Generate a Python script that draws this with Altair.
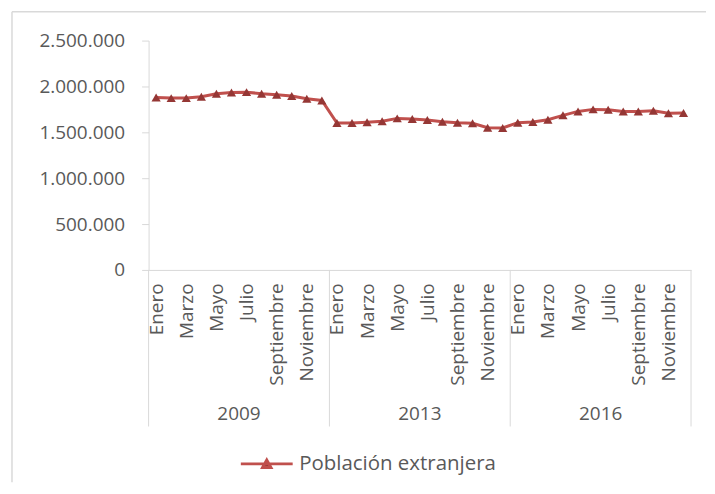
import altair as alt
import pandas as pd

years = ["2009", "2013", "2016"]
months = ["Enero", "Febrero", "Marzo", "Abril", "Mayo", "Junio", "Julio",
          "Agosto", "Septiembre", "Octubre", "Noviembre", "Diciembre"]
serie = "Población extranjera"

v2009 = [1880000, 1873000, 1873000, 1888000, 1921000, 1935000,
         1938000, 1921000, 1910000, 1895000, 1866000, 1848000]
v2013 = [1601000, 1601000, 1609000, 1620000, 1652000, 1646000,
         1634000, 1616000, 1605000, 1598000, 1551000, 1547000]
v2016 = [1605000, 1612000, 1638000, 1685000, 1728000, 1750000,
         1747000, 1728000, 1728000, 1736000, 1707000, 1710000]

y_ticks = [0, 500000, 1000000, 1500000, 2000000, 2500000]

FONT = "Open Sans"
TXT = "#595959"
GRID = "#d9d9d9"
LINE = "#C0504D"
MARK = "#953735"

rows = []
for yi, (yr, vals) in enumerate(zip(years, [v2009, v2013, v2016])):
    for mi, v in enumerate(vals):
        rows.append({"pos": yi * 12 + mi + 0.5, "anio": yr, "mes": months[mi],
                     "valor": v, "serie": serie})
df = pd.DataFrame(rows)

df_sep = pd.DataFrame({"pos": [0, 12, 24, 36]})
df_year = pd.DataFrame({"pos": [6, 18, 30], "anio": years})
df_one = pd.DataFrame({"k": [0]})

month_arr = "[" + ",".join("'" + m + "'" for m in months) + "]"
xaxis = alt.Axis(
    values=[i + 0.5 for i in range(0, 36, 2)],
    labelExpr=month_arr + "[floor(datum.value) % 12]",
    labelAngle=270, labelAlign="right", labelBaseline="middle",
    labelPadding=13, ticks=False, grid=False, domainColor=GRID,
    labelFont=FONT, labelFontSize=19, labelColor=TXT,
    labelOverlap=False, labelFlush=False, title=None,
)
xscale = alt.Scale(domain=[0, 36], nice=False, zero=False)
xenc = alt.X("pos:Q", scale=xscale, axis=xaxis, title=None)

yaxis = alt.Axis(
    values=y_ticks,
    labelExpr="replace(format(datum.value, ','), regexp(',', 'g'), '.')",
    grid=False, domainColor=GRID, tickColor=GRID, tickSize=7,
    labelPadding=17, labelFont=FONT, labelFontSize=19, labelColor=TXT,
    title=None,
)
yenc = alt.Y("valor:Q", scale=alt.Scale(domain=[0, 2500000], nice=False), axis=yaxis, title=None)

legend_path = "M-1,0L1,0M-0.16,0.14L0,-0.15L0.16,0.14Z"

line = alt.Chart(df).mark_line(strokeWidth=3).encode(
    x=xenc, y=yenc,
    color=alt.Color("serie:N", scale=alt.Scale(range=[LINE]),
                    legend=alt.Legend(orient="none", legendX=91, legendY=397,
                                      title=None, symbolType=legend_path,
                                      symbolSize=2704, symbolStrokeWidth=3,
                                      symbolFillColor=MARK, labelOffset=5,
                                      labelLimit=0,
                                      labelFont=FONT, labelFontSize=20.5,
                                      labelColor=TXT)),
)
points = alt.Chart(df).mark_point(shape="triangle-up", filled=True, size=85,
                                  color=MARK, opacity=1).encode(x=xenc, y=yenc)

seps = alt.Chart(df_sep).mark_rule(color=GRID, strokeWidth=1).encode(
    x=xenc, y=alt.value(230), y2=alt.value(387))

year_txt = alt.Chart(df_year).mark_text(font=FONT, fontSize=19, color=TXT,
                                        baseline="middle").encode(
    x=xenc, y=alt.value(374), text="anio:N")

frame_top = alt.Chart(df_one).mark_rule(color=GRID, strokeWidth=1.5).encode(
    x=alt.value(-137), x2=alt.value(559), y=alt.value(-29))
frame_left = alt.Chart(df_one).mark_rule(color=GRID, strokeWidth=1.5).encode(
    x=alt.value(-137), y=alt.value(-29), y2=alt.value(443))

chart = alt.layer(frame_top, frame_left, seps, line, points, year_txt).properties(
    width=544, height=230,
    padding={"left": 3, "top": 2, "right": 0, "bottom": 0},
).configure_view(stroke=None)

chart.save("out.html", embed_options={"renderer": "svg", "actions": False})
